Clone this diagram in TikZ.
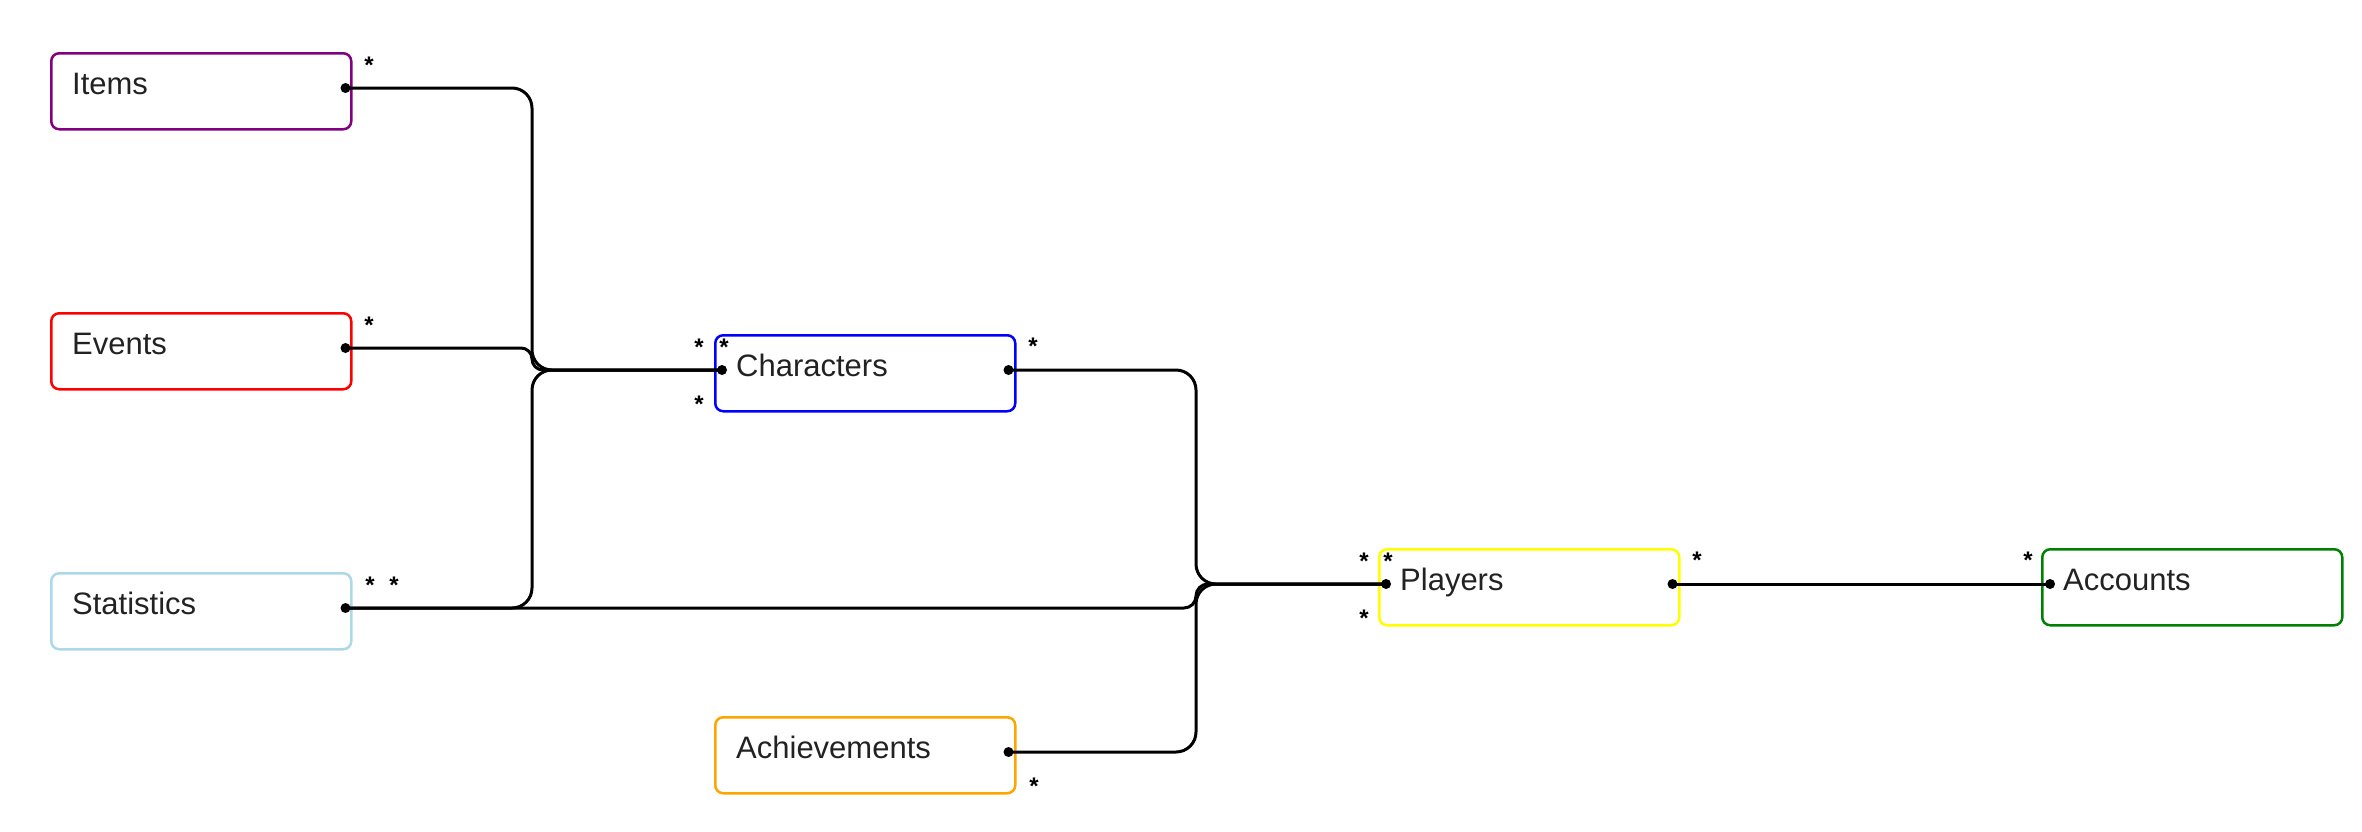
\documentclass[tikz,border=0pt]{standalone}
\usepackage{fontspec}
\setmainfont{Liberation Sans}
\usetikzlibrary{calc}
\definecolor{txt}{RGB}{34,34,34}
\definecolor{cpurple}{RGB}{128,0,128}
\definecolor{cred}{RGB}{255,0,0}
\definecolor{clblue}{RGB}{173,216,230}
\definecolor{cblue}{RGB}{0,0,255}
\definecolor{corange}{RGB}{255,165,0}
\definecolor{cyellow}{RGB}{255,255,0}
\definecolor{cgreen}{RGB}{0,128,0}
\tikzset{
  ent/.style={draw, line width=2.5pt, rounded corners=8pt, minimum width=300pt, minimum height=76pt, inner sep=0pt, anchor=north west},
  lbl/.style={font=\fontsize{31}{36}\selectfont, text=txt, inner sep=0pt, anchor=base west},
  conn/.style={line width=3pt, black},
  enddot/.style={fill=black},
  mult/.style={font=\bfseries\fontsize{24}{28}\selectfont, inner sep=0pt, anchor=base, yshift=-14pt}
}
\begin{document}
\begin{tikzpicture}[x=1pt,y=-1pt]
\useasboundingbox (0,0) rectangle (2362,831);
% entities
\node[ent, draw=cpurple] (items) at (50,52) {};
\node[ent, draw=cred] (events) at (50,312) {};
\node[ent, draw=clblue] (stats) at (50,572) {};
\node[ent, draw=cblue] (chars) at (714,334) {};
\node[ent, draw=corange] (ach) at (714,716) {};
\node[ent, draw=cyellow] (play) at (1378,548) {};
\node[ent, draw=cgreen] (acc) at (2041,548) {};
% texts
\node[lbl] (items-t) at ($(items.north west)+(22,42)$) {Items};
\node[lbl] (events-t) at ($(events.north west)+(22,42)$) {Events};
\node[lbl] (stats-t) at ($(stats.north west)+(22,42)$) {Statistics};
\node[lbl] (chars-t) at ($(chars.north west)+(22,42)$) {Characters};
\node[lbl] (ach-t) at ($(ach.north west)+(22,42)$) {Achievements};
\node[lbl] (play-t) at ($(play.north west)+(22,42)$) {Players};
\node[lbl] (acc-t) at ($(acc.north west)+(22,42)$) {Accounts};
% connection points
\coordinate (items-r) at ($(items.north east)+(-7,36)$);
\coordinate (events-r) at ($(events.north east)+(-7,36)$);
\coordinate (stats-r) at ($(stats.north east)+(-7,36)$);
\coordinate (chars-l) at ($(chars.north west)+(8,36)$);
\coordinate (chars-r) at ($(chars.north east)+(-8,36)$);
\coordinate (ach-r) at ($(ach.north east)+(-8,36)$);
\coordinate (play-l) at ($(play.north west)+(8,36)$);
\coordinate (play-r) at ($(play.north east)+(-8,36)$);
\coordinate (acc-l) at ($(acc.north west)+(9,36)$);
\coordinate (jA) at (532,0);
\coordinate (jB) at (1196,0);
% connectors
\draw[conn, rounded corners=20pt] (items-r) -- (items-r -| jA) -- (jA |- chars-l) -- (chars-l);
\draw[conn, rounded corners=11pt] (events-r) -- (events-r -| jA) -- (jA |- chars-l) -- (chars-l);
\draw[conn, rounded corners=20pt] (stats-r) -- (stats-r -| jA) -- (jA |- chars-l) -- (chars-l);
\draw[conn, rounded corners=12pt] (stats-r) -- (stats-r -| jB) -- (jB |- play-l) -- (play-l);
\draw[conn, rounded corners=20pt] (chars-r) -- (chars-r -| jB) -- (jB |- play-l) -- (play-l);
\draw[conn, rounded corners=20pt] (ach-r) -- (ach-r -| jB) -- (jB |- play-l) -- (play-l);
\draw[conn] (play-r) -- (acc-l);
% dots
\foreach \p in {items-r,events-r,stats-r,chars-l,chars-r,ach-r,play-l,play-r,acc-l}
  \fill[enddot] (\p) circle (5pt);
% multiplicities
\node[mult] (m1) at (369,59) {*};
\node[mult] (m2) at (369,319) {*};
\node[mult] (m3) at (370,579) {*};
\node[mult] (m4) at (394,579) {*};
\node[mult] (m5) at (699,341) {*};
\node[mult] (m6) at (724,341) {*};
\node[mult] (m7) at (699,398) {*};
\node[mult] (m8) at (1033,340) {*};
\node[mult] (m9) at (1034,780) {*};
\node[mult] (m10) at (1364,555) {*};
\node[mult] (m11) at (1388,555) {*};
\node[mult] (m12) at (1364,612) {*};
\node[mult] (m13) at (1697,554) {*};
\node[mult] (m14) at (2028,554) {*};
\end{tikzpicture}
\end{document}
